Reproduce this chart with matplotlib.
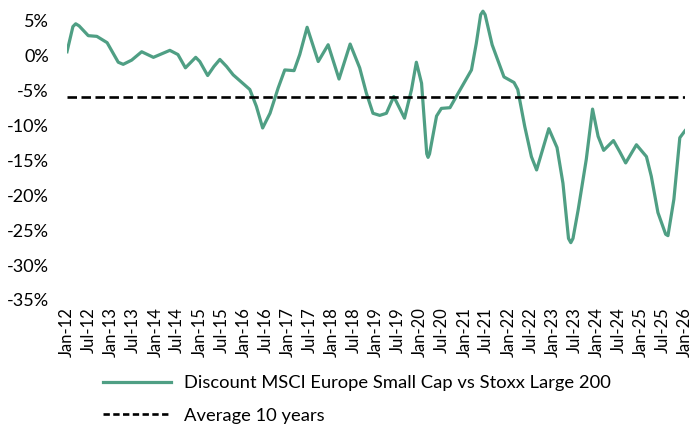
import pandas as pd
import matplotlib
matplotlib.use("Agg")
import matplotlib.pyplot as plt
import matplotlib.dates as mdates
from matplotlib.lines import Line2D

plt.rcParams['font.family'] = ['Lato', 'DejaVu Sans']

# discount of MSCI Europe Small Cap vs Stoxx Large 200 (%)
dates = [
    "2012-01-01", "2012-02-19", "2012-03-13", "2012-04-10", "2012-06-25",
    "2012-09-04", "2012-11-28",
    "2013-02-28", "2013-04-10", "2013-06-19", "2013-09-10", "2013-12-16",
    "2014-05-01", "2014-07-07", "2014-09-07", "2014-12-01", "2015-01-04",
    "2015-03-10", "2015-05-01", "2015-06-19", "2015-08-13", "2015-10-07",
    "2016-02-22", "2016-04-16", "2016-06-07", "2016-08-07", "2016-10-13",
    "2016-12-07", "2017-02-22", "2017-04-10", "2017-06-10", "2017-09-10",
    "2017-12-01", "2018-03-01", "2018-06-01", "2018-08-19", "2018-10-13",
    "2018-12-07", "2019-02-01", "2019-03-28", "2019-05-28", "2019-08-25",
    "2019-10-22", "2019-12-01", "2020-01-13", "2020-02-25", "2020-03-07",
    "2020-03-19", "2020-05-16",
    "2020-06-25", "2020-09-04", "2020-11-25", "2021-03-01", "2021-04-10",
    "2021-05-16", "2021-06-04", "2021-06-22",
    "2021-08-19", "2021-11-25", "2022-02-16", "2022-03-19",
    "2022-05-16", "2022-07-10", "2022-08-22", "2022-12-01", "2023-02-07",
    "2023-03-28", "2023-05-13", "2023-06-01", "2023-06-19", "2023-08-01",
    "2023-10-07", "2023-11-28",
    "2024-01-13", "2024-02-28", "2024-05-19", "2024-07-10", "2024-08-28",
    "2024-11-25", "2025-02-16", "2025-03-28", "2025-05-22", "2025-07-25",
    "2025-08-13", "2025-10-01", "2025-11-19", "2026-01-01",
]
discount = [
    0.5, 4.1, 4.5, 4.2, 2.8,
    2.7, 1.8,
    -1.0, -1.3, -0.7, 0.5, -0.3,
    0.7, 0.1, -1.8, -0.3, -0.9,
    -2.9, -1.6, -0.6, -1.6, -2.8,
    -4.9, -7.3, -10.4, -8.3, -4.7,
    -2.1, -2.2, 0.1, 4.0, -0.9,
    1.5, -3.4, 1.6, -1.8, -5.4,
    -8.3, -8.6, -8.3, -5.9, -9.0,
    -4.9, -1.0, -4.0, -14.1, -14.6,
    -14.1, -8.7,
    -7.6, -7.5, -5.0, -2.1, 1.7,
    5.8, 6.3, 5.8,
    1.5, -3.1, -3.9, -4.9,
    -10.2, -14.5, -16.4, -10.5, -13.2,
    -18.3, -26.2, -26.8, -26.2, -22.1,
    -14.9, -7.7,
    -11.6, -13.6, -12.2, -13.8, -15.4,
    -12.8, -14.5, -17.3, -22.5, -25.6,
    -25.8, -20.6, -11.8, -10.8,
]
avg_10y = -6.0

y_ticks = [5, 0, -5, -10, -15, -20, -25, -30, -35]

green = '#4f9f84'

x = pd.to_datetime(dates)

fig = plt.figure(figsize=(6.94, 4.25), dpi=100)
ax = fig.add_axes([67 / 694, 1 - 300 / 425, 618 / 694, 300 / 425])

ax.plot(x, discount, color=green, lw=2.3, solid_joinstyle='round')
ax.axhline(avg_10y, color='black', lw=1.9, dashes=(3.6, 1.7))

ax.set_xlim(pd.Timestamp("2012-01-01"), pd.Timestamp("2026-01-01"))
ax.set_ylim(-35, 7.9)
ax.set_yticks(y_ticks)
ax.set_yticklabels([f"{t}%" for t in y_ticks])

xt = pd.date_range("2012-01-01", "2026-01-01", freq="6MS")
ax.set_xticks(xt)
ax.xaxis.set_major_formatter(mdates.DateFormatter("%b-%y"))
plt.setp(ax.get_xticklabels(), rotation=90)

ax.tick_params(axis='x', length=0, pad=5, labelsize=12)
ax.tick_params(axis='y', length=0, pad=13, labelsize=13)
for s in ax.spines.values():
    s.set_visible(False)

handles = [
    Line2D([], [], color=green, lw=2.3),
    Line2D([], [], color='black', lw=1.9, dashes=(2.4, 1.3)),
]
labels = ["Discount MSCI Europe Small Cap vs Stoxx Large 200", "Average 10 years"]
fig.legend(handles, labels, loc='upper left', bbox_to_anchor=(103 / 694, 1 - 375 / 425),
           frameon=False, fontsize=13.2, handlelength=3.7, handletextpad=0.7,
           labelspacing=0.9, borderpad=0, borderaxespad=0)

fig.savefig("out.png", dpi=100)
